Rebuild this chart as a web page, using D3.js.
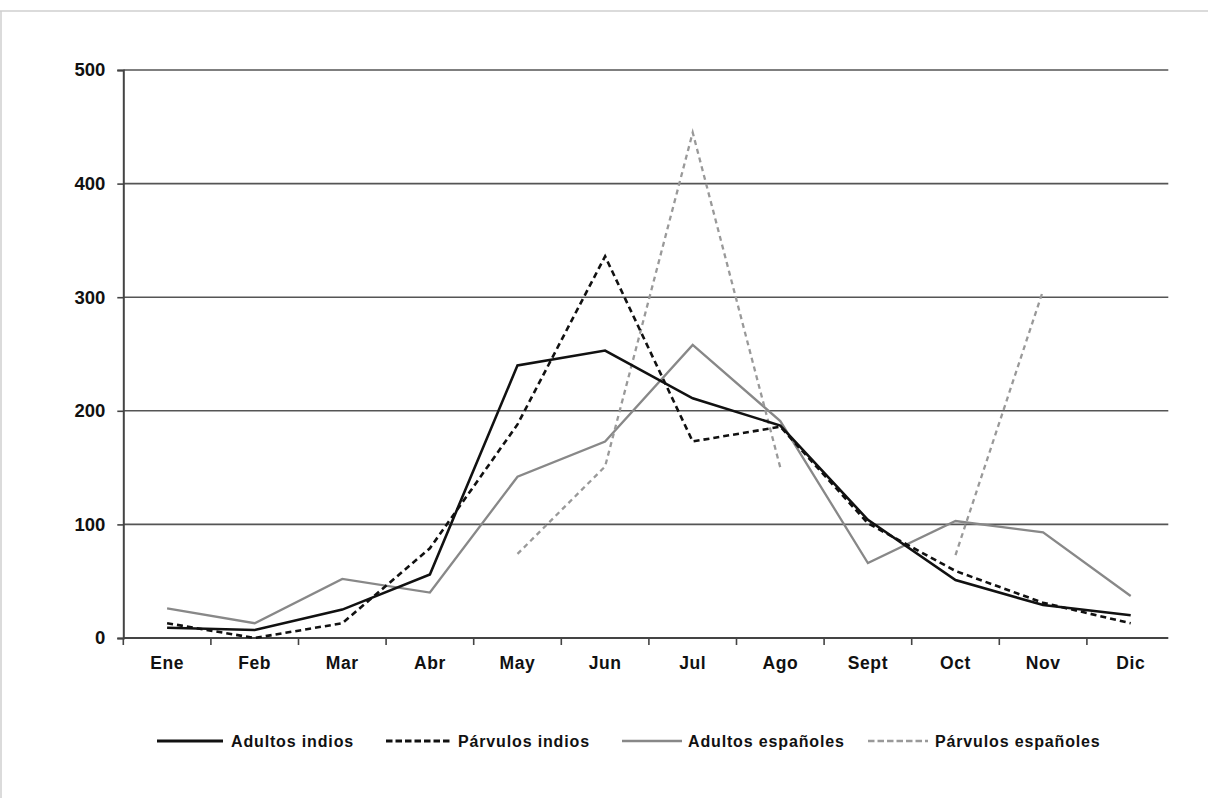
<!DOCTYPE html>
<html>
<head>
<meta charset="utf-8">
<script src="https://cdn.jsdelivr.net/npm/d3@7/dist/d3.min.js"></script>
<style>
  html, body { margin: 0; padding: 0; background: #fff; }
  svg { display: block; }
  text { font-family: "Liberation Sans", Arial, sans-serif; font-weight: bold; fill: #111; }
</style>
</head>
<body>
<svg id="chart" width="1208" height="798"></svg>
<script>
const months = ["Ene", "Feb", "Mar", "Abr", "May", "Jun", "Jul", "Ago", "Sept", "Oct", "Nov", "Dic"];
const yTicks = [0, 100, 200, 300, 400, 500];

const adultosIndios    = [9, 7, 25, 56, 240, 253, 211, 187, 104, 51, 29, 20];
const parvulosIndios   = [13, 0, 13, 79, 188, 336, 173, 186, 101, 59, 31, 13];
const adultosEspanoles = [26, 13, 52, 40, 142, 173, 258, 191, 66, 103, 93, 37];
const parvulosEspanoles = [null, null, null, null, 74, 151, 445, 150, null, 73, 306, null];

const seriesNames = ["Adultos indios", "Párvulos indios", "Adultos españoles", "Párvulos españoles"];
const seriesValues = [adultosIndios, parvulosIndios, adultosEspanoles, parvulosEspanoles];
const seriesStyles = [
  { color: "#111", width: 2.6, dash: null },
  { color: "#111", width: 2.6, dash: "6,4" },
  { color: "#888", width: 2.3, dash: null },
  { color: "#999", width: 2.3, dash: "5,4" }
];

(function () {
const svg = d3.select("#chart");

// outer frame lines (top and left)
svg.append("line").attr("x1", 0).attr("x2", 1208).attr("y1", 11).attr("y2", 11)
  .attr("stroke", "#cfcfcf").attr("stroke-width", 1.5);
svg.append("line").attr("x1", 1).attr("x2", 1).attr("y1", 11).attr("y2", 798)
  .attr("stroke", "#cfcfcf").attr("stroke-width", 1.5);

const pLeft = 123.3, pRight = 1168.3, pTop = 70, pBottom = 638;
const bandEnd = 1174.5;

const x = d3.scaleBand().domain(months).range([pLeft, bandEnd]).padding(0);
const y = d3.scaleLinear().domain([0, 500]).range([pBottom, pTop]);
const cx = d => x(d) + x.bandwidth() / 2;

// gridlines
svg.append("g").selectAll("line").data(yTicks.filter(t => t > 0)).join("line")
  .attr("x1", pLeft).attr("x2", pRight)
  .attr("y1", d => y(d)).attr("y2", d => y(d))
  .attr("stroke", "#555").attr("stroke-width", 1.6);

// y axis
const yAxis = svg.append("g").attr("transform", `translate(${pLeft},0)`)
  .call(d3.axisLeft(y).tickValues(yTicks).tickSize(6).tickPadding(12).tickFormat(d3.format("d")));
yAxis.select(".domain").attr("stroke", "#444").attr("stroke-width", 2);
yAxis.selectAll(".tick line").attr("stroke", "#444").attr("stroke-width", 1.6);
yAxis.selectAll("text").style("font-size", "18.5px").style("font-family", "'Liberation Sans', Arial, sans-serif")
  .style("font-weight", "bold").attr("fill", "#111");

// x axis (labels at band centers)
const xAxis = svg.append("g").attr("transform", `translate(0,${pBottom})`)
  .call(d3.axisBottom(x).tickSize(0).tickPadding(19));
xAxis.select(".domain").remove();
xAxis.selectAll("text").style("font-size", "17.5px").style("font-family", "'Liberation Sans', Arial, sans-serif")
  .style("font-weight", "bold").style("letter-spacing", "0.6px").attr("fill", "#111");
svg.append("line").attr("x1", pLeft).attr("x2", pRight).attr("y1", pBottom).attr("y2", pBottom)
  .attr("stroke", "#444").attr("stroke-width", 2);

// x tick marks at band boundaries
const boundaries = months.map(m => x(m));
svg.append("g").selectAll("line").data(boundaries).join("line")
  .attr("x1", d => d).attr("x2", d => d)
  .attr("y1", pBottom).attr("y2", pBottom + 7)
  .attr("stroke", "#444").attr("stroke-width", 1.6);

// lines
const line = d3.line()
  .defined(d => d.v !== null)
  .x(d => cx(d.m))
  .y(d => y(d.v));

// draw gray first, then black on top
const order = [2, 3, 1, 0];
order.forEach(i => {
  const data = months.map((m, j) => ({ m, v: seriesValues[i][j] }));
  const st = seriesStyles[i];
  svg.append("path").datum(data)
    .attr("d", line)
    .attr("fill", "none")
    .attr("stroke", st.color)
    .attr("stroke-width", st.width)
    .attr("stroke-linejoin", "miter")
    .attr("stroke-dasharray", st.dash);
});

// legend
const legendY = 741;
const legendItems = [
  { x1: 157, x2: 223, tx: 231 },
  { x1: 386, x2: 452, tx: 458 },
  { x1: 622, x2: 682, tx: 688 },
  { x1: 868, x2: 928, tx: 935 }
];
legendItems.forEach((it, i) => {
  const st = seriesStyles[i];
  svg.append("line").attr("x1", it.x1).attr("x2", it.x2).attr("y1", legendY).attr("y2", legendY)
    .attr("stroke", st.color).attr("stroke-width", st.width + 0.3)
    .attr("stroke-dasharray", st.dash ? "6.5,3" : null);
  svg.append("text").attr("x", it.tx).attr("y", legendY + 6)
    .style("font-size", "16px").style("letter-spacing", "0.85px")
    .text(seriesNames[i]);
});
})();
</script>
</body>
</html>
